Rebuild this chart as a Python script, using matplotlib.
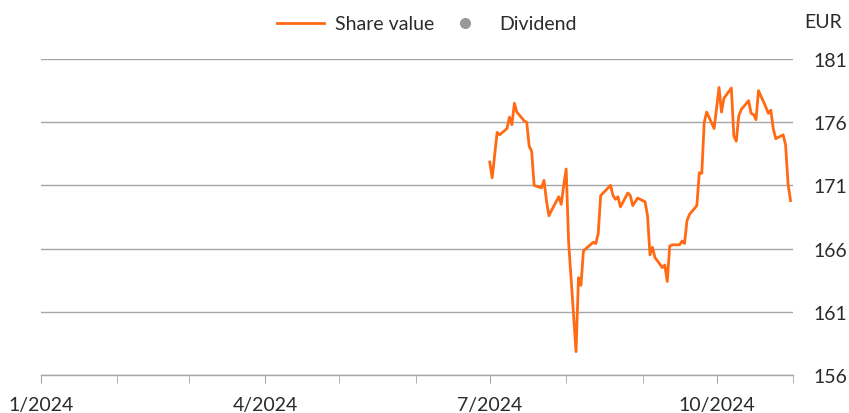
import pandas as pd
import matplotlib.pyplot as plt
import matplotlib.dates as mdates
import matplotlib.ticker as ticker
from matplotlib.lines import Line2D

DATES = [
    "2024-07-01", "2024-07-02", "2024-07-03", "2024-07-04", "2024-07-05",
    "2024-07-08", "2024-07-09", "2024-07-10", "2024-07-11", "2024-07-12",
    "2024-07-15", "2024-07-16", "2024-07-17", "2024-07-18", "2024-07-19",
    "2024-07-22", "2024-07-23", "2024-07-24", "2024-07-25", "2024-07-26",
    "2024-07-29", "2024-07-30", "2024-07-31", "2024-08-01", "2024-08-02",
    "2024-08-05", "2024-08-06", "2024-08-07", "2024-08-08", "2024-08-09",
    "2024-08-12", "2024-08-13", "2024-08-14", "2024-08-15", "2024-08-16",
    "2024-08-19", "2024-08-20", "2024-08-21", "2024-08-22", "2024-08-23",
    "2024-08-26", "2024-08-27", "2024-08-28", "2024-08-29", "2024-08-30",
    "2024-09-02", "2024-09-03", "2024-09-04", "2024-09-05", "2024-09-06",
    "2024-09-09", "2024-09-10", "2024-09-11", "2024-09-12", "2024-09-13",
    "2024-09-16", "2024-09-17", "2024-09-18", "2024-09-19", "2024-09-20",
    "2024-09-23", "2024-09-24", "2024-09-25", "2024-09-26", "2024-09-27",
    "2024-09-30", "2024-10-01", "2024-10-02", "2024-10-03", "2024-10-04",
    "2024-10-07", "2024-10-08", "2024-10-09", "2024-10-10", "2024-10-11",
    "2024-10-14", "2024-10-15", "2024-10-16", "2024-10-17", "2024-10-18",
    "2024-10-21", "2024-10-22", "2024-10-23", "2024-10-24", "2024-10-25",
    "2024-10-28", "2024-10-29", "2024-10-30", "2024-10-31",
]
SHARE_VALUE = [
    172.85, 171.6, 173.4, 175.2, 175.0,
    175.5, 176.4, 175.8, 177.5, 176.8,
    176.1, 176.0, 174.1, 173.7, 171.0,
    170.8, 171.4, 169.8, 168.6, 169.0,
    170.1, 169.5, 171.0, 172.3, 166.5,
    157.85, 163.7, 163.1, 165.8, 166.0,
    166.5, 166.4, 167.2, 170.2, 170.4,
    171.0, 170.2, 169.9, 170.1, 169.3,
    170.4, 170.2, 169.4, 169.7, 170.0,
    169.7, 168.6, 165.5, 166.1, 165.3,
    164.5, 164.7, 163.4, 166.2, 166.3,
    166.3, 166.6, 166.4, 168.2, 168.7,
    169.4, 172.0, 171.95, 176.0, 176.8,
    175.5, 177.1, 178.75, 176.8, 177.9,
    178.7, 174.9, 174.5, 176.5, 177.0,
    177.7, 176.7, 176.6, 176.2, 178.5,
    177.2, 176.7, 176.95, 175.5, 174.7,
    175.0, 174.2, 171.1, 169.8,
]
Y_TICKS = [156, 161, 166, 171, 176, 181]
X_START, X_END = "2024-01-01", "2024-11-01"

ORANGE = "#FF6A13"
GREY = "#A6A6A6"
TEXT = "#2b2b2b"
FS = 14

plt.rcParams.update({"font.family": ["Lato", "DejaVu Sans"], "font.size": FS})

fig = plt.figure(figsize=(8.49, 4.14), dpi=100)
ax = fig.add_axes([41 / 849, 1 - 376 / 414, (793 - 41) / 849, (376 - 60) / 414])

dates = pd.to_datetime(DATES)
ax.plot(dates, SHARE_VALUE, color=ORANGE, lw=2.0, solid_joinstyle="round")

ax.set_xlim(pd.Timestamp(X_START), pd.Timestamp(X_END))
ax.set_ylim(Y_TICKS[0], Y_TICKS[-1])
ax.set_yticks(Y_TICKS)
ax.yaxis.tick_right()
ax.tick_params(axis="y", length=0, pad=15, labelcolor=TEXT, labelsize=FS)
ax.grid(axis="y", color=GREY, lw=1.0)
ax.set_axisbelow(True)

ax.xaxis.set_major_locator(mdates.MonthLocator(bymonth=[1, 4, 7, 10]))
ax.xaxis.set_minor_locator(mdates.MonthLocator())
ax.xaxis.set_major_formatter(ticker.FuncFormatter(lambda x, _: f"{mdates.num2date(x).month}/{mdates.num2date(x).year}"))
ax.tick_params(axis="x", which="both", length=6, color=GREY, direction="out", pad=9, labelcolor=TEXT, labelsize=FS)

for side in ["top", "left", "right"]:
    ax.spines[side].set_visible(False)
ax.spines["bottom"].set_color(GREY)
ax.spines["bottom"].set_linewidth(1.0)

handles = [Line2D([], [], color=ORANGE, lw=2.0),
           Line2D([], [], color="#999999", lw=0, marker="o", markersize=7)]
fig.legend(handles, ["Share value", "Dividend"], loc="center", bbox_to_anchor=(0.503, 1 - 25 / 414),
           ncol=2, frameon=False, handlelength=2.4, handletextpad=0.55, columnspacing=0.4, fontsize=FS,
           labelcolor=TEXT)
fig.text(823 / 849, 1 - 23 / 414, "EUR", ha="center", va="center", fontsize=FS, color=TEXT)

fig.savefig("out.png", dpi=100)
